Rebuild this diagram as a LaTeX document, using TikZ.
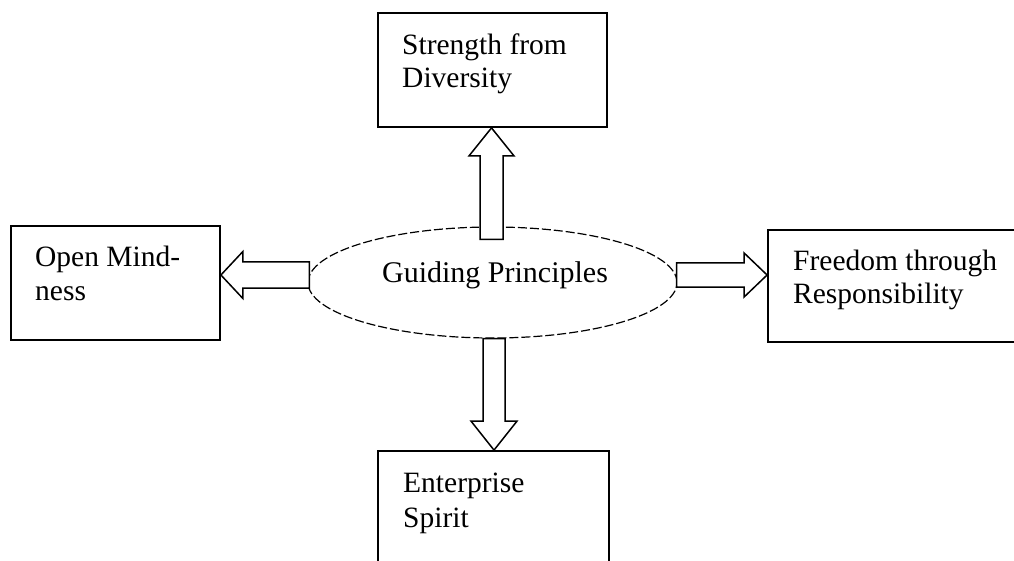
\documentclass[tikz,border=0pt]{standalone}
\usepackage{fontspec}
\setmainfont{Liberation Serif}
\usetikzlibrary{shapes.geometric,calc}

% Hollow block arrow, horizontal: #1 start, #2 tip (only its x is used),
% #3 shaft half width, #4 head half width, #5 head length
\newcommand\harrow[5]{%
  \draw[blk] let \p1=(#1), \p2=(#2), \n1={sign(\x2-\x1)} in
    (\x1,\y1+#3) -- ({\x2-\n1*#5},\y1+#3) -- ({\x2-\n1*#5},\y1+#4)
    -- (\x2,\y1) -- ({\x2-\n1*#5},\y1-#4) -- ({\x2-\n1*#5},\y1-#3)
    -- (\x1,\y1-#3) -- cycle;}
% Hollow block arrow, vertical: #2 tip (only its y is used)
\newcommand\varrow[5]{%
  \draw[blk] let \p1=(#1), \p2=(#2), \n1={sign(\y2-\y1)} in
    (\x1+#3,\y1) -- (\x1+#3,{\y2-\n1*#5}) -- (\x1+#4,{\y2-\n1*#5})
    -- (\x1,\y2) -- (\x1-#4,{\y2-\n1*#5}) -- (\x1-#3,{\y2-\n1*#5})
    -- (\x1-#3,\y1) -- cycle;}

\begin{document}
\begin{tikzpicture}[x=1pt,y=-1pt,
  box/.style={draw,line width=1.8pt,rectangle,inner sep=0pt},
  blk/.style={draw,fill=white,line width=1.5pt,line join=miter},
  oval/.style={draw,ellipse,line width=1.2pt,dash pattern=on 9pt off 3pt,inner sep=0pt},
  lbl/.style={anchor=base west,inner sep=0pt,font=\fontsize{29.5}{33}\selectfont}]
\fill[white] (0,0) rectangle (1014,561);
\useasboundingbox (0,0) rectangle (1014,561);

% frames
\node[box,minimum width=229pt,minimum height=114pt] (sd) at (492.5,70) {};
\node[box,minimum width=209pt,minimum height=114pt] (om) at (115.5,283) {};
\node[box,minimum width=262pt,minimum height=112pt] (fr) at (899,286) {};
\node[box,minimum width=231pt,minimum height=139pt] (es) at (493.5,520.5) {};

% centre
\node[oval,minimum width=369pt,minimum height=111pt] (gp) at (492.5,282.5) {};

% texts
\node[lbl] (sdt) at (402,55) {\parbox[t]{220pt}{\raggedright Strength from\\Diversity}};
\node[lbl] (omt) at (35,267) {\parbox[t]{200pt}{\raggedright Open Mind-\\ness}};
\node[lbl] (frt) at (793,270) {\parbox[t]{240pt}{\raggedright Freedom through\\Responsibility}};
\node[lbl,font=\fontsize{29.5}{35}\selectfont] (est) at (403,492) {\parbox[t]{220pt}{\raggedright Enterprise\\Spirit}};
\node[anchor=base,inner sep=0pt,font=\fontsize{30}{33}\selectfont] (gpt) at (495,282) {Guiding Principles};

% arrow start points on the centre oval
\coordinate (ups) at ($(gp.north)+(-1,13)$);
\coordinate (dns) at ($(gp.south)+(1.5,0)$);
\coordinate (lfs) at ($(gp.west)+(2,-7.5)$);
\coordinate (rts) at ($(gp.east)+(-1,-7.5)$);

\varrow{ups}{sd.south}{11.5pt}{22.5pt}{28pt}
\varrow{dns}{es.north}{11pt}{23pt}{29pt}
\harrow{lfs}{om.east}{13pt}{23.5pt}{22pt}
\harrow{rts}{fr.west}{12pt}{22pt}{23pt}
\end{tikzpicture}
\end{document}
